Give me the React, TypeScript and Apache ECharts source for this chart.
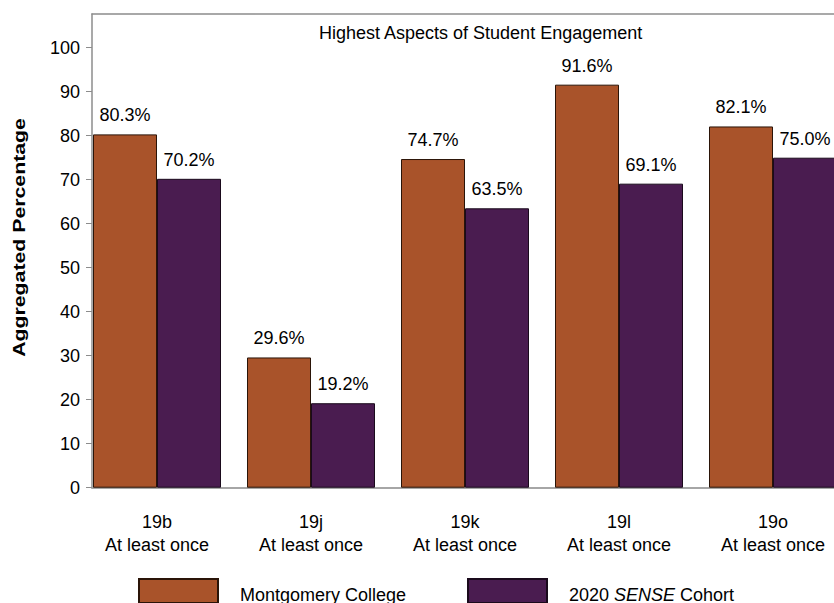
import React, { useEffect, useRef } from "react";
import * as echarts from "echarts";

const categories = ["19b\nAt least once", "19j\nAt least once", "19k\nAt least once", "19l\nAt least once", "19o\nAt least once"];
const seriesNames = ["Montgomery College", "2020 SENSE Cohort"];
const collegeValues = [80.3, 29.6, 74.7, 91.6, 82.1];
const cohortValues = [70.2, 19.2, 63.5, 69.1, 75.0];
const yTicks = [0, 10, 20, 30, 40, 50, 60, 70, 80, 90, 100];
const categoryPositions = [0, 1, 2, 3, 4];

const FONT = "'Liberation Sans', Arial, sans-serif";

export default function App() {
  const ref = useRef<HTMLDivElement>(null);
  useEffect(() => {
    if (!ref.current) return;
    const chart = echarts.init(ref.current, undefined, { renderer: "svg" });
    const xMin = -0.4221;
    const xMax = 4.396;
    const label = {
      show: true,
      position: "top",
      distance: 10,
      color: "#000",
      fontSize: 18,
      fontFamily: FONT,
      formatter: (p: any) => Number(p.value[1]).toFixed(1) + "%",
    };
    const legendText = {
      fontSize: 18,
      color: "#000",
      fontFamily: FONT,
      padding: [8, 0, 0, 17],
      rich: {
        t: { fontSize: 18, fontFamily: FONT, color: "#000" },
        i: { fontStyle: "italic", fontSize: 18, fontFamily: FONT, color: "#000" },
      },
    };
    chart.setOption({
      animation: false,
      backgroundColor: "#fff",
      textStyle: { fontFamily: FONT },
      title: {
        text: "Highest Aspects of Student Engagement",
        left: 314,
        top: 19,
        textStyle: { fontSize: 18, fontWeight: "normal", color: "#000", fontFamily: FONT },
      },
      grid: { left: 92, right: 0, top: 14, bottom: 115.3 },
      xAxis: [
        {
          type: "value",
          min: xMin,
          max: xMax,
          splitLine: { show: false },
          axisTick: { show: false },
          axisLine: { show: true, onZero: false, lineStyle: { color: "#a6a6a6", width: 2 } },
          axisLabel: {
            customValues: categoryPositions,
            formatter: (v: number) => categories[Math.round(v)] ?? "",
            color: "#000",
            fontSize: 18,
            fontFamily: FONT,
            lineHeight: 23,
            margin: 23,
          },
        },
        {
          type: "value",
          position: "top",
          min: xMin,
          max: xMax,
          splitLine: { show: false },
          axisTick: { show: false },
          axisLabel: { show: false },
          axisLine: { show: true, onZero: false, lineStyle: { color: "#8c8c8c", width: 1.5 } },
        },
      ],
      yAxis: {
        type: "value",
        min: 0,
        max: 107.66,
        splitLine: { show: false },
        axisLine: { show: true, onZero: false, lineStyle: { color: "#8c8c8c", width: 1.5 } },
        axisTick: { show: true, length: 6, customValues: yTicks, lineStyle: { color: "#8c8c8c" } },
        axisLabel: {
          customValues: yTicks,
          color: "#000",
          fontSize: 18,
          fontFamily: FONT,
          margin: 12,
        },
      },
      legend: [
        {
          data: [seriesNames[0]],
          icon: "rect",
          left: 138,
          top: 578,
          padding: 0,
          itemWidth: 79,
          itemHeight: 24,
          selectedMode: false,
          formatter: (name: string) => "{t|" + name + "}",
          textStyle: legendText,
        },
        {
          data: [seriesNames[1]],
          icon: "rect",
          left: 467,
          top: 578,
          padding: 0,
          itemWidth: 79,
          itemHeight: 24,
          selectedMode: false,
          formatter: () => "{t|2020 }{i|SENSE}{t| Cohort}",
          textStyle: legendText,
        },
      ],
      graphic: [
        {
          type: "text",
          x: 19.5,
          y: 237.5,
          rotation: Math.PI / 2,
          scaleX: 1.33,
          style: {
            text: "Aggregated Percentage",
            fontSize: 16,
            fontWeight: "bold",
            fontFamily: FONT,
            fill: "#000",
            align: "center",
            verticalAlign: "middle",
          },
        },
      ],
      series: [
        {
          name: seriesNames[0],
          type: "bar",
          barWidth: 64,
          barGap: "0%",
          data: collegeValues.map((v, i) => [categoryPositions[i], v]),
          itemStyle: { color: "#A9532A", borderColor: "#2a1408", borderWidth: 1 },
          label,
        },
        {
          name: seriesNames[1],
          type: "bar",
          barWidth: 64,
          barGap: "0%",
          data: cohortValues.map((v, i) => [categoryPositions[i], v]),
          itemStyle: { color: "#4A1C50", borderColor: "#1a0a1c", borderWidth: 1 },
          label,
        },
      ],
    });
    return () => chart.dispose();
  }, []);
  return (
    <div
      ref={ref}
      style={{ width: 834, height: 603, position: "absolute", left: 0, top: 0 }}
    />
  );
}
